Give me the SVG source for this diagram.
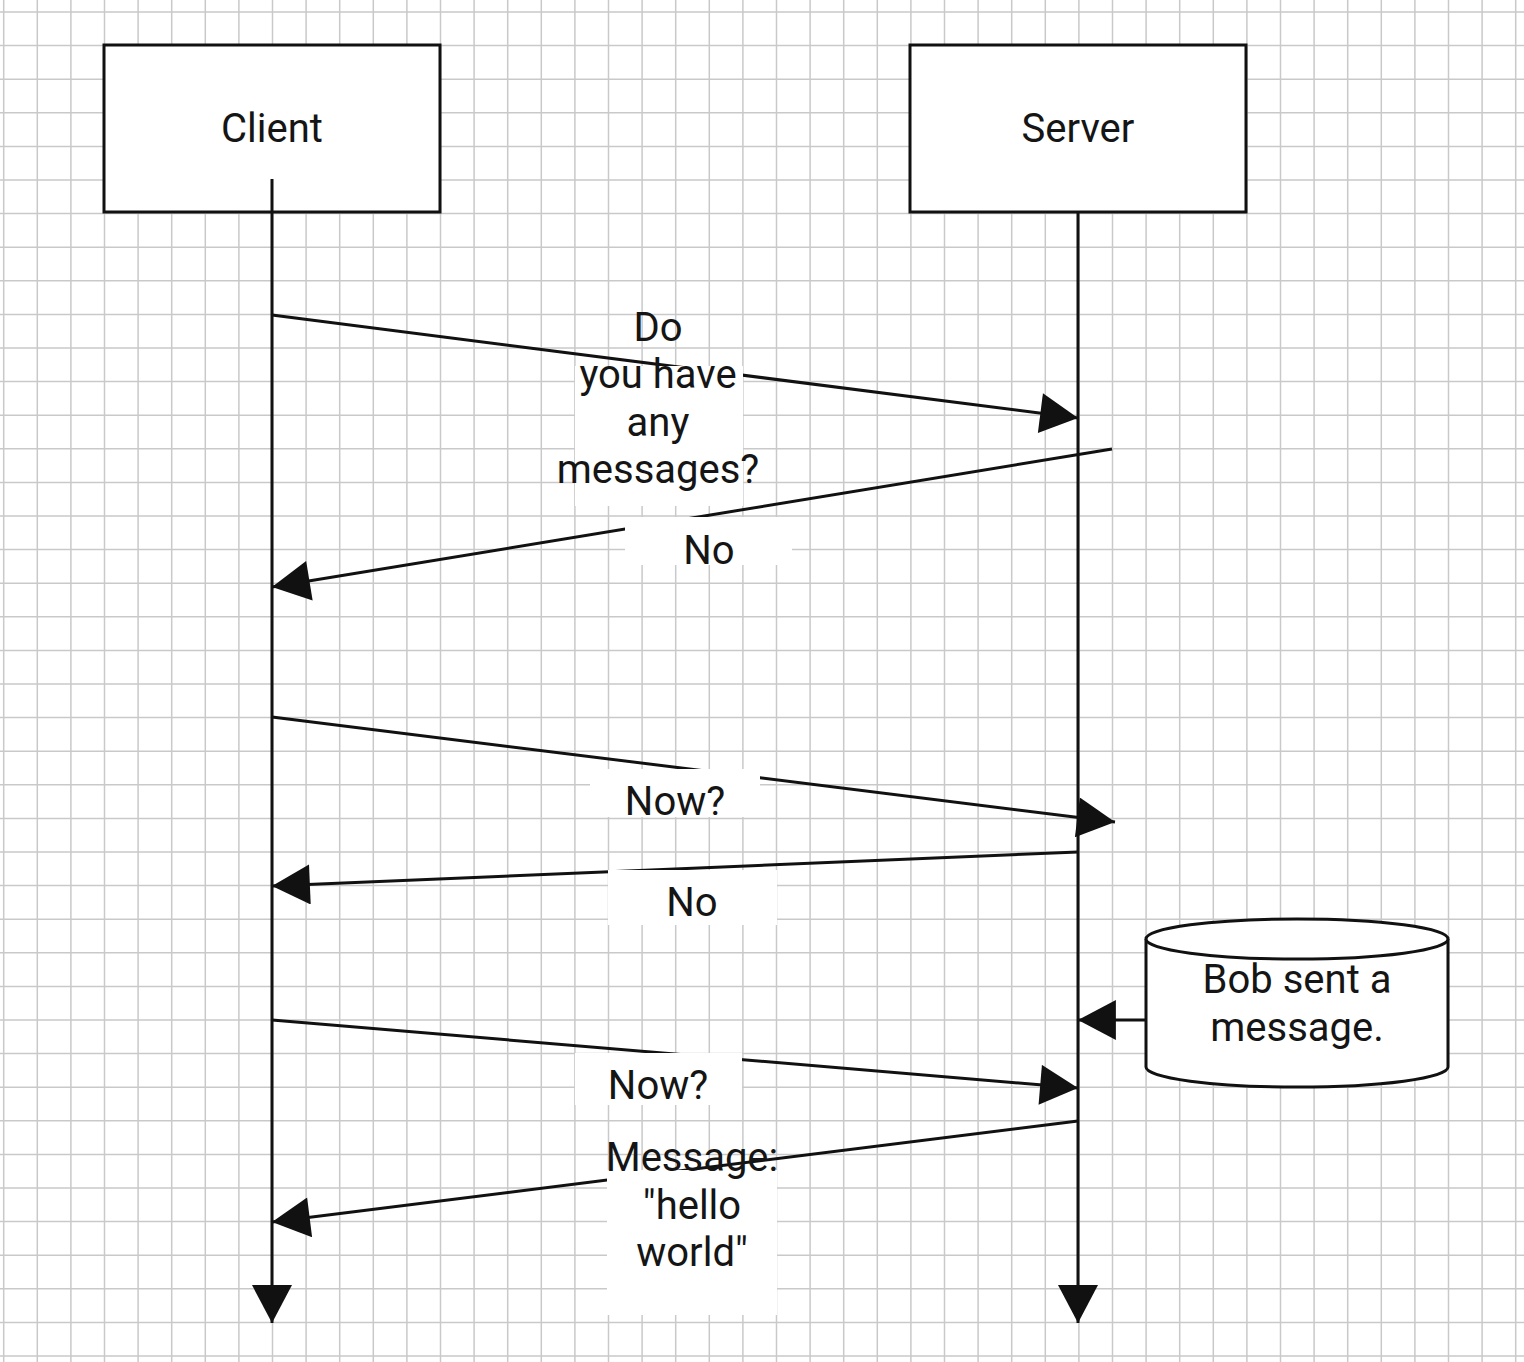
<svg xmlns="http://www.w3.org/2000/svg" width="1524" height="1362" viewBox="0 0 1524 1362">
<style>
.grid{stroke:#c9c9c9;stroke-width:1.5;fill:none}
.box{fill:#fff;stroke:#111;stroke-width:3}
.life{stroke:#111;stroke-width:3;fill:none}
.msg{stroke:#111;stroke-width:3;fill:none;marker-end:url(#ah)}
.lbg{fill:#fff;stroke:none}
text{font-family:Roboto,"Liberation Sans",sans-serif;font-size:40px;fill:#151515;text-anchor:middle}
</style>
<defs>
<marker id="ah" markerUnits="userSpaceOnUse" markerWidth="40" markerHeight="40" viewBox="0 0 36 38" refX="36" refY="19" orient="auto">
<path d="M0,0 L36,19 L0,38 Z" fill="#111"/>
</marker>
</defs>
<rect width="1524" height="1362" fill="#fff"/>
<path class="grid" d="M3.7,0V1362M37.3,0V1362M70.9,0V1362M104.5,0V1362M138.1,0V1362M171.7,0V1362M205.3,0V1362M238.9,0V1362M272.5,0V1362M306.1,0V1362M339.7,0V1362M373.3,0V1362M406.9,0V1362M440.5,0V1362M474.1,0V1362M507.7,0V1362M541.3,0V1362M574.9,0V1362M608.5,0V1362M642.1,0V1362M675.7,0V1362M709.3,0V1362M742.9,0V1362M776.5,0V1362M810.1,0V1362M843.7,0V1362M877.3,0V1362M910.9,0V1362M944.5,0V1362M978.1,0V1362M1011.7,0V1362M1045.3,0V1362M1078.9,0V1362M1112.5,0V1362M1146.1,0V1362M1179.7,0V1362M1213.3,0V1362M1246.9,0V1362M1280.5,0V1362M1314.1,0V1362M1347.7,0V1362M1381.3,0V1362M1414.9,0V1362M1448.5,0V1362M1482.1,0V1362M1515.7,0V1362M0,12H1524M0,45.6H1524M0,79.2H1524M0,112.8H1524M0,146.4H1524M0,180H1524M0,213.6H1524M0,247.2H1524M0,280.8H1524M0,314.4H1524M0,348H1524M0,381.6H1524M0,415.2H1524M0,448.8H1524M0,482.4H1524M0,516H1524M0,549.6H1524M0,583.2H1524M0,616.8H1524M0,650.4H1524M0,684H1524M0,717.6H1524M0,751.2H1524M0,784.8H1524M0,818.4H1524M0,852H1524M0,885.6H1524M0,919.2H1524M0,952.8H1524M0,986.4H1524M0,1020H1524M0,1053.6H1524M0,1087.2H1524M0,1120.8H1524M0,1154.4H1524M0,1188H1524M0,1221.6H1524M0,1255.2H1524M0,1288.8H1524M0,1322.4H1524M0,1356H1524"/>
<g id="client">
<rect class="box" x="104" y="45" width="336" height="167"/>
<text x="272" y="142">Client</text>
</g>
<g id="server">
<rect class="box" x="910" y="45" width="336" height="167"/>
<text x="1078" y="142">Server</text>
</g>
<g id="bob">
<path class="box" d="M1146,939 A151,20 0 0 1 1448,939 V1067 A151,20 0 0 1 1146,1067 Z"/>
<path class="box" fill="none" d="M1146,939 A151,20 0 0 0 1448,939"/>
<text x="1297" y="993">Bob sent a</text>
<text x="1297" y="1041">message.</text>
</g>
<g id="connectors">
<line class="msg" x1="272" y1="179" x2="272" y2="1323"/>
<line class="msg" x1="1078" y1="212" x2="1078" y2="1323"/>
<line class="msg" x1="272" y1="315" x2="1078" y2="418"/>
<line class="msg" x1="1112" y1="449" x2="272" y2="587"/>
<line class="msg" x1="272" y1="717" x2="1115" y2="822"/>
<line class="msg" x1="1078" y1="852" x2="272" y2="886"/>
<line class="msg" x1="1145" y1="1020" x2="1078" y2="1020"/>
<line class="msg" x1="272" y1="1020" x2="1078" y2="1088"/>
<line class="msg" x1="1078" y1="1121" x2="272" y2="1222"/>
</g>
<g id="labels">
<rect class="lbg" x="575" y="366" width="168" height="140"/>
<rect class="lbg" x="625" y="517" width="167" height="48"/>
<rect class="lbg" x="590" y="769" width="170" height="48"/>
<rect class="lbg" x="608" y="870" width="169" height="55"/>
<rect class="lbg" x="575" y="1053" width="167" height="52"/>
<rect class="lbg" x="607" y="1170" width="170" height="145"/>
<text x="658" y="341">Do</text>
<text x="658" y="388">you have</text>
<text x="658" y="436">any</text>
<text x="658" y="483">messages?</text>
<text x="709" y="564">No</text>
<text x="675" y="815">Now?</text>
<text x="692" y="916">No</text>
<text x="658" y="1099">Now?</text>
<text x="692" y="1171">Message:</text>
<text x="692" y="1219">"hello</text>
<text x="692" y="1266">world"</text>
</g>
</svg>
